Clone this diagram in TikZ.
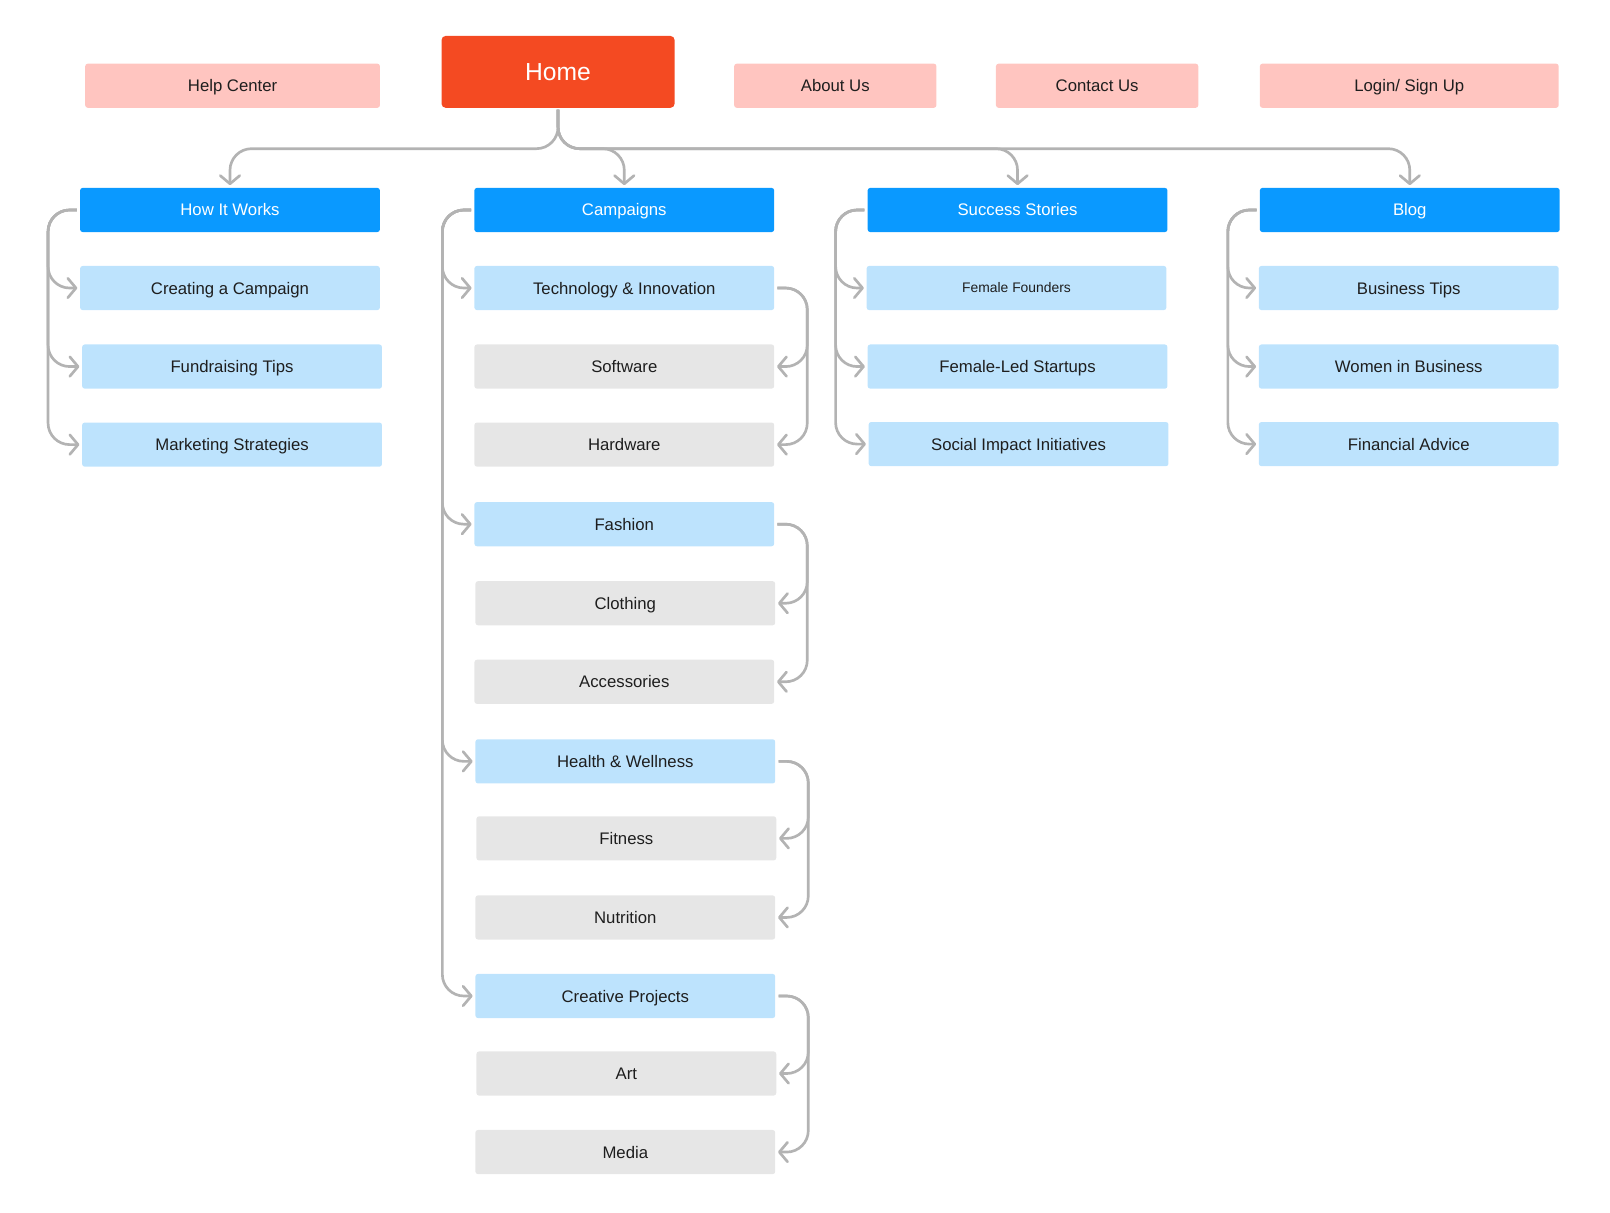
\documentclass[tikz,border=0pt]{standalone}
\usepackage{fontspec}
\setmainfont{Liberation Sans}
\usetikzlibrary{arrows.meta}
\definecolor{pinkc}{HTML}{FFC5C0}
\definecolor{homec}{HTML}{F44A22}
\definecolor{bluec}{HTML}{0A99FF}
\definecolor{lbluec}{HTML}{BDE3FD}
\definecolor{grayc}{HTML}{E6E6E6}
\definecolor{linec}{HTML}{B3B3B3}
\definecolor{txtc}{HTML}{1E1E1E}
\tikzset{
  box/.style={rectangle, rounded corners=2.5pt, inner sep=0pt, minimum width=292pt, minimum height=43pt, font=\fontsize{16.3}{19}\selectfont, text=txtc, text height=11.7pt, text depth=0pt},
  topbox/.style={box, fill=pinkc},
  homebox/.style={box, fill=homec, text=white, minimum width=227pt, minimum height=70pt, rounded corners=4pt, font=\fontsize{24}{28}\selectfont, text height=17.2pt},
  lvtwo/.style={box, fill=bluec, text=white},
  lvthree/.style={box, fill=lbluec},
  leaf/.style={box, fill=grayc},
  conn/.style={draw=linec, line width=2.6pt, rounded corners=21pt, -{Straight Barb[length=8pt,width=19pt,round]}, shorten >=2.5pt},
}
\begin{document}
\begin{tikzpicture}[x=1pt,y=-1pt]
\useasboundingbox (0,0) rectangle (1568,1181);
% top row
\node[topbox, minimum width=287pt] (help) at (226.5,83.5) {Help Center};
\node[homebox] (home) at (543.5,70) {Home};
\node[topbox, minimum width=197pt] (about) at (813.5,83.5) {About Us};
\node[topbox, minimum width=197pt] (contact) at (1068.5,83.5) {Contact Us};
\node[topbox, minimum width=291pt] (login) at (1372.5,83.5) {Login/ Sign Up};
% level 2
\node[lvtwo] (hiw) at (224,204.5) {How It Works};
\node[lvtwo] (camp) at (608,204.5) {Campaigns};
\node[lvtwo] (ss) at (991,204.5) {Success Stories};
\node[lvtwo] (blog) at (1373,204.5) {Blog};
% how it works
\node[lvthree] (c1) at (224,280.5) {Creating a Campaign};
\node[lvthree] (c2) at (226,357) {Fundraising Tips};
\node[lvthree] (c3) at (226,433) {Marketing Strategies};
% campaigns
\node[lvthree] (tech) at (608,280.5) {Technology \& Innovation};
\node[leaf] (soft) at (608,357) {Software};
\node[leaf] (hard) at (608,433) {Hardware};
\node[lvthree] (fash) at (608,510.5) {Fashion};
\node[leaf] (cloth) at (609,587.5) {Clothing};
\node[leaf] (acc) at (608,664) {Accessories};
\node[lvthree] (health) at (609,741.5) {Health \& Wellness};
\node[leaf] (fit) at (610,816.5) {Fitness};
\node[leaf] (nut) at (609,893.5) {Nutrition};
\node[lvthree] (creat) at (609,970) {Creative Projects};
\node[leaf] (art) at (610,1045.5) {Art};
\node[leaf] (media) at (609,1122) {Media};
% success stories
\node[lvthree, font=\fontsize{13.5}{16}\selectfont, text height=9.7pt] (ff) at (990,280.5) {Female Founders};
\node[lvthree] (fls) at (991,357) {Female-Led Startups};
\node[lvthree] (sii) at (992,432.5) {Social Impact Initiatives};
% blog
\node[lvthree] (bt) at (1372,280.5) {Business Tips};
\node[lvthree] (wib) at (1372,357) {Women in Business};
\node[lvthree] (fa) at (1372,432.5) {Financial Advice};
% home tree
\foreach \t in {hiw,camp,ss,blog}{
  \draw[conn, shorten <=1.5pt] (home.south) |- ([yshift=38pt]\t.north) -- (\t.north);
}
% left brackets
\foreach \p/\c in {hiw/c1,hiw/c2,hiw/c3,camp/tech,camp/fash,camp/health,camp/creat,ss/ff,ss/fls,ss/sii,blog/bt,blog/wib,blog/fa}{
  \draw[conn, shorten <=3pt] (\p.west) -- ++(-31,0) |- (\c.west);
}
% right brackets
\foreach \p/\c in {tech/soft,tech/hard,fash/cloth,fash/acc,health/fit,health/nut,creat/art,creat/media}{
  \draw[conn, shorten <=3pt] (\p.east) -- ++(32,0) |- (\c.east);
}
\end{tikzpicture}
\end{document}
